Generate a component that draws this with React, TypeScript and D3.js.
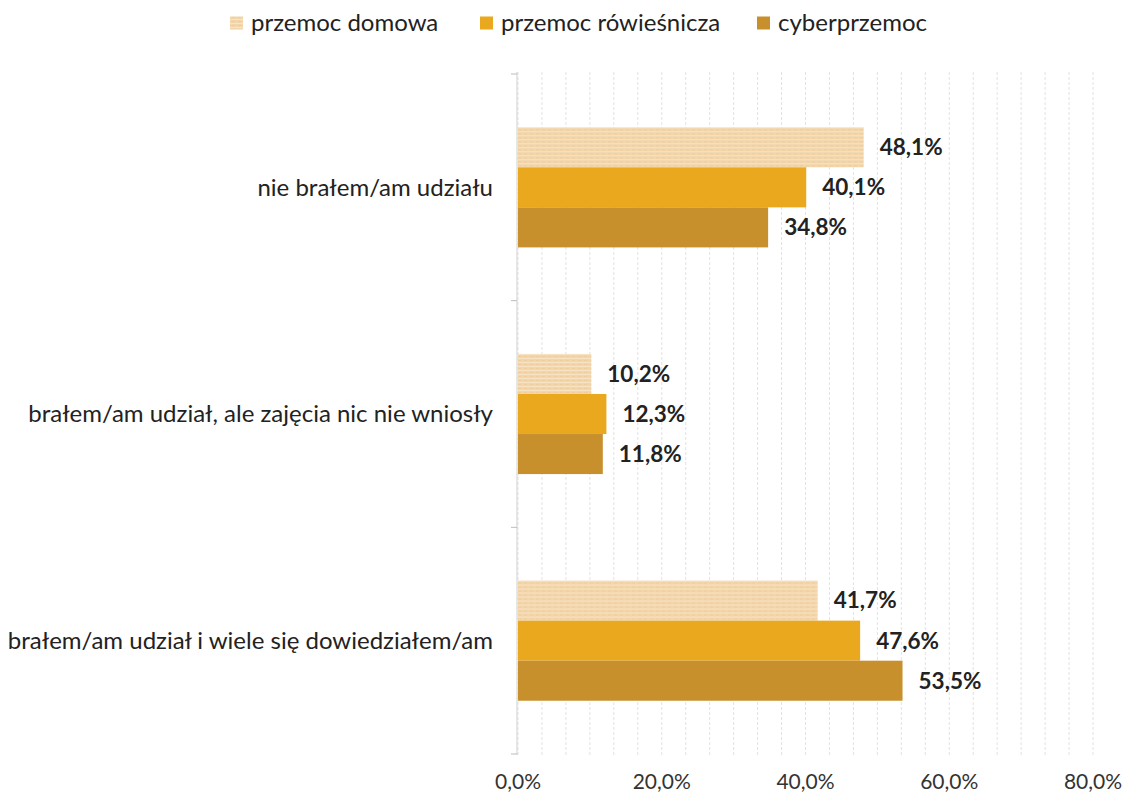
import React from "react";
import * as d3 from "d3";

const categories = [
  "nie brałem/am udziału",
  "brałem/am udział, ale zajęcia nic nie wniosły",
  "brałem/am udział i wiele się dowiedziałem/am",
];
const seriesNames = ["przemoc domowa", "przemoc rówieśnicza", "cyberprzemoc"];
const domowa = [48.1, 10.2, 41.7];
const rowiesnicza = [40.1, 12.3, 47.6];
const cyber = [34.8, 11.8, 53.5];
const xTicks = [0, 20, 40, 60, 80];
const colors = ["#f2d5aa", "#e9a81e", "#c8902d"];

const W = 1131;
const H = 800;
const FONT = "Lato, 'Open Sans', sans-serif";

export default function App() {
  const series = [domowa, rowiesnicza, cyber];
  const x = d3.scaleLinear().domain([0, 80]).range([518, 1093]);
  const y0 = d3
    .scaleBand<string>()
    .domain(categories)
    .range([74, 754])
    .paddingInner(0.47)
    .paddingOuter(0.235);
  const y1 = d3
    .scaleBand<string>()
    .domain(seriesNames)
    .range([0, y0.bandwidth()]);
  const grid = d3.range(0, 80.001, 20 / 6);
  const step = y0.step();
  const boundaries = d3.range(0, categories.length + 1).map((i) => 74 + i * step);
  const fmt = (v: number) => v.toFixed(1).replace(".", ",") + "%";

  const legendX = [230, 480, 757];

  return (
    <svg
      width={W}
      height={H}
      style={{ position: "absolute", left: 0, top: 0, background: "#fff" }}
      fontFamily={FONT}
    >
      <defs>
        <pattern id="tex" width="6" height="4" patternUnits="userSpaceOnUse">
          <rect width="6" height="4" fill={colors[0]} />
          <rect y="0" width="6" height="1" fill="#f7e3c6" />
          <rect x="2" y="2" width="3" height="1" fill="#ecc993" opacity="0.6" />
        </pattern>
      </defs>
      {grid.map((g, i) => (
        <line
          key={i}
          x1={x(g)}
          x2={x(g)}
          y1={72}
          y2={755}
          stroke="#e2e2e2"
          strokeWidth={1}
          strokeDasharray="3,2"
        />
      ))}
      <line x1={517} x2={517} y1={72} y2={755} stroke="#cfcfcf" strokeWidth={1} />
      {boundaries.map((b, i) => (
        <line key={i} x1={511} x2={517} y1={b} y2={b} stroke="#bdbdbd" strokeWidth={1} />
      ))}
      {categories.map((c, ci) => (
        <g key={c} transform={`translate(0,${y0(c)})`}>
          {series.map((s, si) => {
            const yy = y1(seriesNames[si])!;
            const h = y1.bandwidth();
            return (
              <g key={si}>
                <rect
                  x={x(0)}
                  y={yy}
                  width={x(s[ci]) - x(0)}
                  height={h}
                  fill={si === 0 ? "url(#tex)" : colors[si]}
                />
                <text
                  x={x(s[ci]) + 16}
                  y={yy + h / 2}
                  dy="0.35em"
                  fontSize={22.5}
                  fontWeight="bold"
                  fill="#222"
                >
                  {fmt(s[ci])}
                </text>
              </g>
            );
          })}
          <text
            x={493}
            y={y0.bandwidth() / 2}
            dy="0.35em"
            textAnchor="end"
            fontSize={24}
            fill="#222"
          >
            {c}
          </text>
        </g>
      ))}
      {xTicks.map((t) => (
        <text
          key={t}
          x={x(t)}
          y={782}
          dy="0.35em"
          textAnchor="middle"
          fontSize={21}
          fill="#333"
        >
          {fmt(t)}
        </text>
      ))}
      {seriesNames.map((n, i) => (
        <g key={n} transform={`translate(${legendX[i]},23)`}>
          <rect
            x={0}
            y={-6.5}
            width={13}
            height={13}
            fill={i === 0 ? "url(#tex)" : colors[i]}
          />
          <text x={21} y={0} dy="0.35em" fontSize={24} fill="#222">
            {n}
          </text>
        </g>
      ))}
    </svg>
  );
}
